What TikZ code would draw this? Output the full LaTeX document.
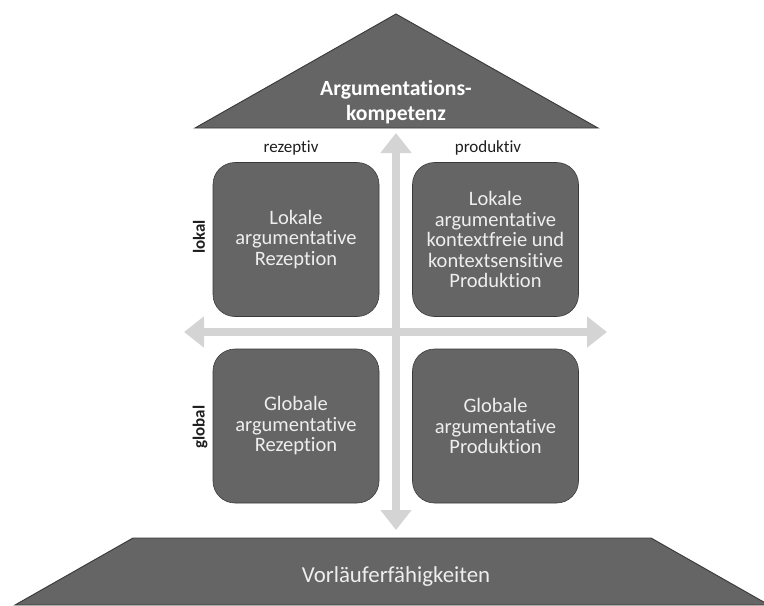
\documentclass[tikz,border=0pt]{standalone}
\usepackage{fontspec}
\setmainfont{Carlito}[Ligatures={NoCommon,NoRequired,NoContextual}]
\usetikzlibrary{arrows.meta}
\definecolor{boxgray}{HTML}{656565}
\definecolor{edgegray}{HTML}{3A3A3A}
\definecolor{axisgray}{HTML}{D4D4D4}
\definecolor{textgray}{HTML}{EEEEEE}
\definecolor{labelgray}{HTML}{1E1E1E}

\begin{document}
\begin{tikzpicture}[x=0.03cm, y=-0.03cm,
        field/.style={draw=edgegray, line width=0.5pt, fill=boxgray,
            rounded corners=0.66cm, minimum width=4.98cm, minimum height=4.62cm,
            align=center, text=textgray, font=\fontsize{17.5}{17.5}\selectfont},
        roof/.style={draw=edgegray, line width=0.8pt, fill=boxgray},
        axis/.style={axisgray, line width=0.24cm,
            {Triangle[length=0.6cm,width=0.9cm]}-{Triangle[length=0.6cm,width=0.9cm]}},
        tag/.style={text=labelgray, font=\fontsize{14.5}{16}\selectfont}]
        \useasboundingbox (0,0) rectangle (764,605);

        % ==== ROOF ====
        \draw[roof] (396,14) -- (598,128) -- (195,128) -- cycle;
        \node[align=center, text=white, font=\bfseries\fontsize{18.5}{21}\selectfont]
            (kompetenz) at (396,102) {Argumentations-\\kompetenz};

        % ==== BASE ====
        \draw[roof] (133,538) -- (651,538) -- (769,605) -- (15,605) -- cycle;
        \node[text=textgray, font=\fontsize{19.5}{22}\selectfont]
            (vorlaeufer) at (396,577) {Vorläuferfähigkeiten};

        % ==== AXES ====
        \coordinate (north) at (396,133);
        \coordinate (south) at (396,530);
        \coordinate (west) at (184,332);
        \coordinate (east) at (607,332);
        \draw[axis] (west) -- (east);
        \draw[axis] (north) -- (south);

        % ==== FIELDS ====
        \node[field] (lokrez) at (296,239.5) {Lokale\\argumentative\\Rezeption};
        \node[field] (lokprod) at (495.5,239.5)
            {Lokale\\argumentative\\kontextfreie und\\kontextsensitive\\Produktion};
        \node[field] (globrez) at (296,426) {Globale\\argumentative\\Rezeption};
        \node[field] (globprod) at (495.5,426) {Globale\\argumentative\\Produktion};

        % ==== LABELS ====
        \node[tag] (rezeptiv) at (291,148) {rezeptiv};
        \node[tag] (produktiv) at (488,148) {produktiv};
        \node[tag, rotate=90, font=\bfseries\fontsize{14.5}{16}\selectfont] (lokal) at (199,237) {lokal};
        \node[tag, rotate=90, font=\bfseries\fontsize{14.5}{16}\selectfont] (global) at (200,427) {global};
\end{tikzpicture}
\end{document}
